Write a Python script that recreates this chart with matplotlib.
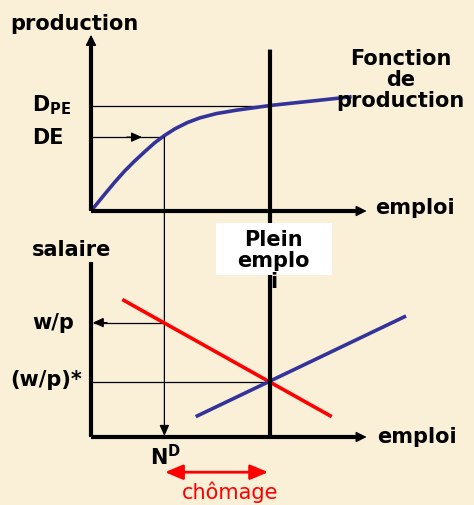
import matplotlib
matplotlib.use("Agg")
import matplotlib.pyplot as plt
from matplotlib.patches import ConnectionPatch, Rectangle

# --- diagram values (employment units, production units, real wage units) ---
EMPLOI_PE = 10.0      # plein emploi
EMPLOI_D = 4.1        # N^D, demande de travail effective
PROD_PE = 10.0        # D_PE
PROD_E = 7.0          # DE
SAL_REEL = 10.4       # w/p
SAL_EQ = 5.0          # (w/p)*

# fonction de production
prod_emploi = [0.0, 0.77, 1.32, 1.88, 2.44, 3.0, 3.56, 4.1, 4.68, 5.38, 6.09,
               7.02, 8.14, 9.07, 10.0, 11.1, 12.6, 14.56]
prod_valeur = [0.0, 1.6, 2.72, 3.79, 4.74, 5.62, 6.47, 7.15, 7.78, 8.38, 8.83,
               9.24, 9.56, 9.78, 10.0, 10.2, 10.47, 10.83]

# demande de travail (rouge) et offre de travail (bleu)
demande_emploi = [1.75, 13.45]
demande_salaire = [12.5, 1.85]
offre_emploi = [5.85, 17.6]
offre_salaire = [1.85, 11.0]

AXE_X_MAX = 15.1
AXE_PROD_MAX = 16.4
AXE_SAL_MAX = 15.9
PE_LIGNE_HAUT = 15.3

BG = "#FAF0D8"
BLEU = "#333399"
ROUGE = "#FF0000"

plt.rcParams["font.family"] = ["DejaVu Sans"]
plt.rcParams["mathtext.fontset"] = "dejavusans"
plt.rcParams["mathtext.default"] = "bf"

W, H = 474, 505
KX = 17.9
fig = plt.figure(figsize=(W / 100, H / 100), dpi=100, facecolor=BG)
ax1 = fig.add_axes([91 / W, (H - 211) / H, 20 * KX / W, 17 * 10.55 / H])
ax2 = fig.add_axes([91 / W, (H - 437) / H, 20 * KX / W, 16 * 11 / H])
ax1.set_xlim(0, 20)
ax1.set_ylim(0, 17)
ax2.set_xlim(0, 20)
ax2.set_ylim(0, 16)
for ax in (ax1, ax2):
    ax.set_facecolor("none")
    ax.axis("off")

lab = dict(fontsize=15, fontweight="bold", color="black", va="center", clip_on=False)
thin = dict(color="black", lw=0.9, zorder=2)
petite_fleche = dict(arrowstyle="-|>,head_length=0.4,head_width=0.18", mutation_scale=16,
                     lw=0.9, color="black", shrinkA=0, shrinkB=0)


def axe(ax, ymax):
    ax.plot([0, 0], [0, ymax], color="black", lw=3, solid_capstyle="butt", clip_on=False, zorder=4)
    ax.plot([0, AXE_X_MAX], [0, 0], color="black", lw=3, solid_capstyle="butt", clip_on=False, zorder=4)
    head = dict(arrowstyle="-|>", mutation_scale=16, lw=1, color="black", shrinkA=0, shrinkB=0)
    ax.annotate("", xy=(0, ymax + 0.3), xytext=(0, ymax - 0.5), arrowprops=head, zorder=4)
    ax.annotate("", xy=(AXE_X_MAX + 0.3, 0), xytext=(AXE_X_MAX - 0.5, 0), arrowprops=head, zorder=4)


# --- haut : fonction de production ---
axe(ax1, AXE_PROD_MAX)
ax1.plot([0, EMPLOI_PE], [PROD_PE, PROD_PE], **thin)
ax1.plot([0, EMPLOI_D], [PROD_E, PROD_E], **thin)
ax1.annotate("", xy=(2.85, PROD_E), xytext=(2.0, PROD_E), arrowprops=petite_fleche)
ax1.plot(prod_emploi, prod_valeur, color=BLEU, lw=2.6, solid_capstyle="butt",
         solid_joinstyle="round", clip_on=False, zorder=3)

ax1.text(-4.5, 17.7, "production", ha="left", **lab)
ax1.text(-3.3, PROD_PE, "D$_{PE}$", ha="left", **lab)
ax1.text(-3.3, PROD_E - 0.1, "DE", ha="left", **lab)
ax1.text(15.9, 0.3, "emploi", ha="left", **lab)
ax1.text(17.3, 12.4, "Fonction\nde\nproduction", ha="center", linespacing=1.05, **lab)

# --- bas : marché du travail ---
axe(ax2, AXE_SAL_MAX)
ax2.plot([EMPLOI_D, 0.15], [SAL_REEL, SAL_REEL], **thin)
ax2.annotate("", xy=(0.1, SAL_REEL), xytext=(0.9, SAL_REEL), arrowprops=petite_fleche)
ax2.plot([0, EMPLOI_PE], [SAL_EQ, SAL_EQ], **thin)
ax2.plot(demande_emploi, demande_salaire, color=ROUGE, lw=2.6, solid_capstyle="butt", zorder=3)
ax2.plot(offre_emploi, offre_salaire, color=BLEU, lw=2.6, solid_capstyle="butt", clip_on=False, zorder=3)

# lignes verticales traversant les deux graphiques
nd = ConnectionPatch(xyA=(EMPLOI_D, PROD_E), coordsA=ax1.transData,
                     xyB=(EMPLOI_D, 0.1), coordsB=ax2.transData, zorder=2, **petite_fleche)
nd.set_clip_on(False)
ax2.add_artist(nd)
pe = ConnectionPatch(xyA=(EMPLOI_PE, PE_LIGNE_HAUT), coordsA=ax1.transData,
                     xyB=(EMPLOI_PE, 0), coordsB=ax2.transData,
                     lw=3, color="black", capstyle="butt", zorder=3)
pe.set_clip_on(False)
ax2.add_artist(pe)

ax2.add_patch(Rectangle((6.98, 14.7), 6.48, 4.75, facecolor="white", edgecolor="none",
                        clip_on=False, zorder=5))
ax2.text(10.2, 16.0, "Plein\nemplo\ni", ha="center", linespacing=1.05, zorder=6, **lab)

ax2.text(-3.3, 17.0, "salaire", ha="left", **lab)
ax2.text(-3.3, SAL_REEL, "w/p", ha="left", **lab)
ax2.text(-4.5, SAL_EQ + 0.2, "(w/p)*", ha="left", **lab)
ax2.text(16.0, 0, "emploi", ha="left", **lab)
ax2.text(3.3, -1.8, "N$^D$", ha="left", **lab)

ax2.annotate("", xy=(4.13, -3.2), xytext=(9.9, -3.2),
             arrowprops=dict(arrowstyle="<|-|>,head_length=0.6,head_width=0.25", mutation_scale=18,
                             lw=2, color=ROUGE, shrinkA=0, shrinkB=0), annotation_clip=False)
ax2.text(7.8, -5.05, "chômage", ha="center", va="center", fontsize=15, color=ROUGE, clip_on=False)

fig.savefig("out.png", dpi=100, facecolor=BG)
